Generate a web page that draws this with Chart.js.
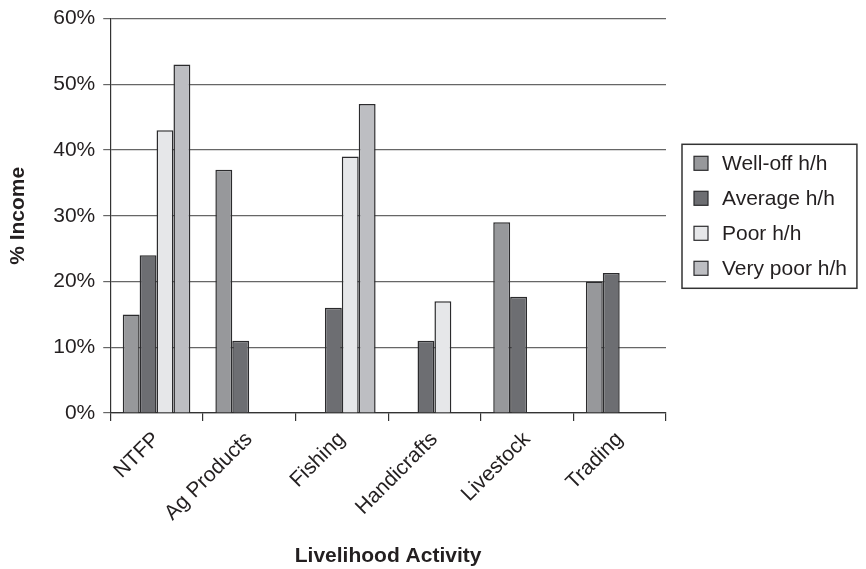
<!DOCTYPE html>
<html>
<head>
<meta charset="utf-8">
<script src="https://cdn.jsdelivr.net/npm/chart.js@4"></script>
<style>
  body { margin: 0; background: #fff; }
  #wrap { width: 866px; height: 569px; }
</style>
</head>
<body>
<div id="wrap"><canvas id="incomeChart" width="866" height="569"></canvas></div>
<script>
// categories and series (% of income)
var activities = ['NTFP', 'Ag Products', 'Fishing', 'Handicrafts', 'Livestock', 'Trading'];
var well_off  = [15, 37, null, null, 29, 20];
var average   = [24, 11, 16, 11, 17.7, 21.3];
var poor      = [43, null, 39, 17, null, null];
var very_poor = [53, null, 47, null, null, null];
var y_ticks   = [0, 10, 20, 30, 40, 50, 60];

const font_family = '"Liberation Sans", Arial, Helvetica, sans-serif';
const text_color = '#231f20';
const edge_color = '#2b2b2d';

// legend drawn by hand, in a framed box right of the plot
const boxedLegend = {
    id: 'boxedLegend',
    afterDraw(chart) {
        var ctx = chart.ctx;
        var area = chart.chartArea;
        var sets = chart.data.datasets;
        var step = 35;
        var x0 = area.right + 28;
        var cy = (area.top + area.bottom) / 2 - step * (sets.length - 1) / 2;
        ctx.save();
        ctx.font = '21px ' + font_family;
        ctx.textBaseline = 'middle';
        ctx.textAlign = 'left';
        var widest = 0;
        sets.forEach(function(ds, i) {
            var y = cy + i * step;
            ctx.fillStyle = ds.backgroundColor;
            ctx.fillRect(x0, y - 7, 14, 14);
            ctx.strokeStyle = edge_color;
            ctx.lineWidth = 1.2;
            ctx.strokeRect(x0, y - 7, 14, 14);
            ctx.fillStyle = text_color;
            ctx.fillText(ds.label, x0 + 28, y + 1);
            widest = Math.max(widest, ctx.measureText(ds.label).width);
        });
        var left = x0 - 12;
        var top = cy - 19;
        var right = x0 + 28 + widest + 10;
        var bottom = cy + step * (sets.length - 1) + 20;
        ctx.strokeStyle = '#333';
        ctx.lineWidth = 1.5;
        ctx.strokeRect(left, top, right - left, bottom - top);
        ctx.restore();
    }
};

function series(label, data, color) {
    return {
        label: label,
        data: data,
        backgroundColor: color,
        borderColor: edge_color,
        borderWidth: 1.5,
        borderSkipped: 'bottom',
        categoryPercentage: 0.73,
        barPercentage: 1.0,
    };
}

const ctx = document.getElementById('incomeChart').getContext('2d');
const incomeChart = new Chart(ctx, {
    type: 'bar',
    data: {
        labels: activities,
        datasets: [
            series('Well-off h/h', well_off, '#97989b'),
            series('Average h/h', average, '#6d6e72'),
            series('Poor h/h', poor, '#e6e7e9'),
            series('Very poor h/h', very_poor, '#bdbec2'),
        ]
    },
    options: {
        responsive: false,
        animation: false,
        layout: {
            padding: { left: 4, right: 200, top: 3, bottom: 0 }
        },
        plugins: {
            legend: { display: false },
            tooltip: { enabled: false },
        },
        scales: {
            x: {
                grid: {
                    offset: true,
                    drawOnChartArea: false,
                    drawTicks: true,
                    tickLength: 8,
                    color: '#333',
                    lineWidth: 1.2,
                },
                border: { color: '#333', width: 1.2 },
                ticks: {
                    color: text_color,
                    font: { family: font_family, size: 21 },
                    maxRotation: 45,
                    minRotation: 45,
                    padding: 6,
                },
                title: {
                    display: true,
                    text: 'Livelihood Activity',
                    color: text_color,
                    font: { family: font_family, size: 21, weight: 'bold' },
                    padding: { top: 12, bottom: 0 },
                }
            },
            y: {
                min: 0,
                max: 60,
                afterBuildTicks: function(axis) {
                    axis.ticks = y_ticks.map(v => ({ value: v }));
                },
                grid: {
                    color: '#666',
                    lineWidth: 1.2,
                    drawTicks: true,
                    tickLength: 7,
                },
                border: { color: '#333', width: 1.2 },
                ticks: {
                    color: text_color,
                    font: { family: font_family, size: 21, lineHeight: 1.0 },
                    padding: 8,
                    callback: function(v) { return v + '%'; }
                },
                title: {
                    display: true,
                    text: '% Income',
                    color: text_color,
                    font: { family: font_family, size: 21, weight: 'bold' },
                    padding: { top: 2, bottom: 14 },
                }
            }
        }
    },
    plugins: [boxedLegend]
});
</script>
</body>
</html>
